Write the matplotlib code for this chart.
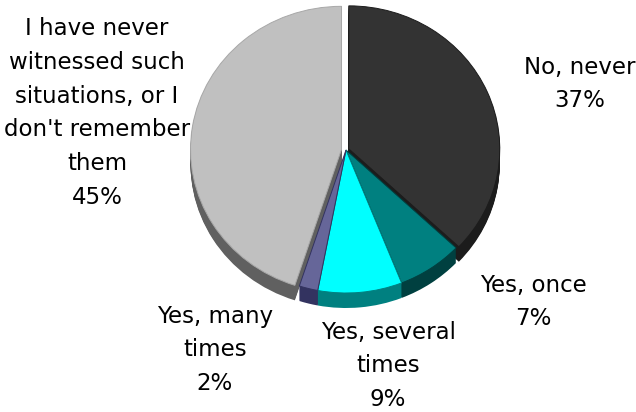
import matplotlib
matplotlib.use("Agg")
import matplotlib.pyplot as plt

# Survey answers, clockwise from 12 o'clock
categories = ["No, never", "Yes, once", "Yes, several\ntimes", "Yes, many\ntimes",
              "I have never\nwitnessed such\nsituations, or I\ndon't remember\nthem"]
values = [37, 7, 9, 2, 45]
top_colors = ["#333333", "#008080", "#00FFFF", "#666699", "#C0C0C0"]
side_colors = ["#1C1C1C", "#004040", "#008080", "#333360", "#606060"]
edge_colors = ["#1C1C1C", "#004040", "#008080", "#333360", "#A8A8A8"]
explode = [0.02, 0.0, 0.0, 0.0, 0.03]

W, H = 636, 412
CX, CY = 346, 150          # pie centre in pixels
RX, RY = 151, 143          # ellipse radii in pixels (tilted disc)
DEPTH = 15                 # thickness of the disc in pixels

fig = plt.figure(figsize=(W / 100, H / 100), dpi=100)
ax = fig.add_axes([0, 0, 1, 1])

# Side walls: stacked copies of the pie, shifted downwards
for d in range(DEPTH, 0, -1):
    ax.pie(values, colors=side_colors, explode=explode, startangle=90,
           counterclock=False, radius=1.0, center=(0, -d / RY),
           wedgeprops=dict(linewidth=0))

# Top face
wedges, _ = ax.pie(values, colors=top_colors, explode=explode, startangle=90,
                   counterclock=False, radius=1.0, center=(0, 0),
                   wedgeprops=dict(linewidth=0.7))
for w, ec in zip(wedges, edge_colors):
    w.set_edgecolor(ec)

# Unit circle -> ellipse in pixel space
ax.set_aspect("auto")
ax.set_xlim(-CX / RX, (W - CX) / RX)
ax.set_ylim((CY - H) / RY, CY / RY)
ax.axis("off")

# Data labels (pixel positions of label centres)
label_pos = [(580, 84), (533, 302), (388, 366), (215, 350), (97, 113)]
for cat, val, (px, py) in zip(categories, values, label_pos):
    fig.text(px / W, 1 - py / H, f"{cat}\n{val}%", ha="center", va="center",
             fontsize=16.5, family="DejaVu Sans", color="black", linespacing=1.6)

fig.savefig("out.png", dpi=100, facecolor="white")
